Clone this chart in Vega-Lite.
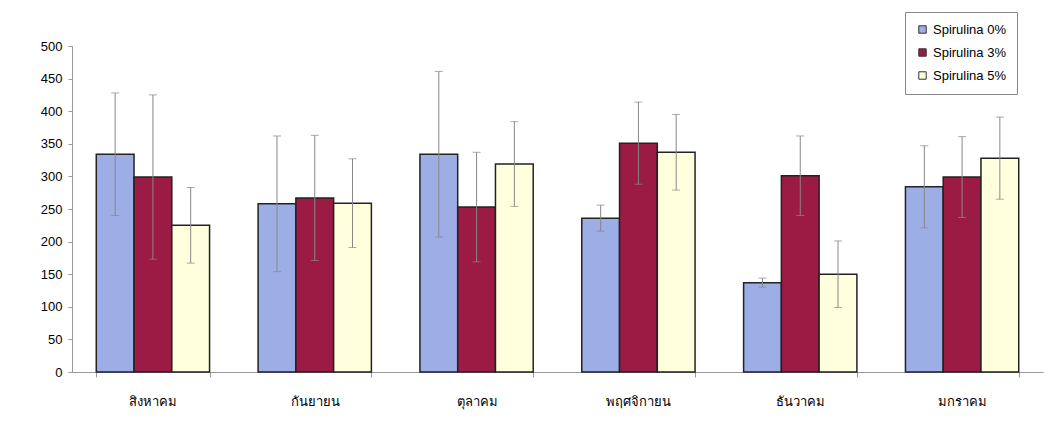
{
  "$schema": "https://vega.github.io/schema/vega-lite/v6.json",
  "width": 971,
  "height": 326,
  "autosize": "none",
  "padding": {"left": 72, "top": 46, "right": 14, "bottom": 56},
  "background": "white",
  "config": {"view": {"stroke": null}, "font": "Liberation Sans"},
  "data": {
    "values": [
      {"month": "สิงหาคม", "group": "Spirulina 0%", "mean": 334, "sd": 94},
      {"month": "สิงหาคม", "group": "Spirulina 3%", "mean": 299, "sd": 126},
      {"month": "สิงหาคม", "group": "Spirulina 5%", "mean": 225, "sd": 58},
      {"month": "กันยายน", "group": "Spirulina 0%", "mean": 258, "sd": 104},
      {"month": "กันยายน", "group": "Spirulina 3%", "mean": 267, "sd": 96},
      {"month": "กันยายน", "group": "Spirulina 5%", "mean": 259, "sd": 68},
      {"month": "ตุลาคม", "group": "Spirulina 0%", "mean": 334, "sd": 127},
      {"month": "ตุลาคม", "group": "Spirulina 3%", "mean": 253, "sd": 84},
      {"month": "ตุลาคม", "group": "Spirulina 5%", "mean": 319, "sd": 65},
      {"month": "พฤศจิกายน", "group": "Spirulina 0%", "mean": 236, "sd": 20},
      {"month": "พฤศจิกายน", "group": "Spirulina 3%", "mean": 351, "sd": 63},
      {"month": "พฤศจิกายน", "group": "Spirulina 5%", "mean": 337, "sd": 58},
      {"month": "ธันวาคม", "group": "Spirulina 0%", "mean": 137, "sd": 7},
      {"month": "ธันวาคม", "group": "Spirulina 3%", "mean": 301, "sd": 61},
      {"month": "ธันวาคม", "group": "Spirulina 5%", "mean": 150, "sd": 51},
      {"month": "มกราคม", "group": "Spirulina 0%", "mean": 284, "sd": 63},
      {"month": "มกราคม", "group": "Spirulina 3%", "mean": 299, "sd": 62},
      {"month": "มกราคม", "group": "Spirulina 5%", "mean": 328, "sd": 63}
    ]
  },
  "encoding": {
    "x": {
      "field": "month",
      "type": "nominal",
      "sort": ["สิงหาคม", "กันยายน", "ตุลาคม", "พฤศจิกายน", "ธันวาคม", "มกราคม"],
      "scale": {"paddingInner": 0.3, "paddingOuter": 0.15},
      "axis": {
        "title": null,
        "labelAngle": 0,
        "labelFontSize": 13,
        "labelColor": "black",
        "labelFont": "DejaVu Sans",
        "tickBand": "extent",
        "tickSize": 5,
        "tickColor": "#999",
        "domainColor": "#999",
        "labelPadding": 18,
        "grid": false
      }
    },
    "xOffset": {"field": "group", "type": "nominal", "sort": ["Spirulina 0%", "Spirulina 3%", "Spirulina 5%"]},
    "y": {
      "field": "mean",
      "type": "quantitative",
      "scale": {"domain": [0, 500], "nice": false},
      "axis": {
        "title": null,
        "values": [0, 50, 100, 150, 200, 250, 300, 350, 400, 450, 500],
        "labelOverlap": false,
        "grid": false,
        "labelFontSize": 13,
        "labelColor": "black",
        "tickSize": 4,
        "tickColor": "#999",
        "domainColor": "#999",
        "labelPadding": 6
      }
    }
  },
  "layer": [
    {
      "mark": {"type": "bar", "stroke": "#222", "strokeWidth": 1.5},
      "encoding": {
        "fill": {
          "field": "group",
          "type": "nominal",
          "sort": ["Spirulina 0%", "Spirulina 3%", "Spirulina 5%"],
          "scale": {"range": ["#9DAEE6", "#9B1B45", "#FFFFDD"]},
          "legend": {
            "title": null,
            "orient": "none",
            "legendX": 833,
            "legendY": -34,
            "strokeColor": "#888",
            "fillColor": "white",
            "padding": 11,
            "rowPadding": 9,
            "symbolType": "square",
            "symbolSize": 55,
            "symbolStrokeColor": "#333",
            "symbolStrokeWidth": 1,
            "labelFontSize": 13,
            "labelColor": "black"
          }
        }
      }
    },
    {
      "mark": {"type": "errorbar", "color": "#888", "thickness": 1, "ticks": {"size": 8, "color": "#888"}},
      "encoding": {
        "yError": {"field": "sd"}
      }
    }
  ]
}
